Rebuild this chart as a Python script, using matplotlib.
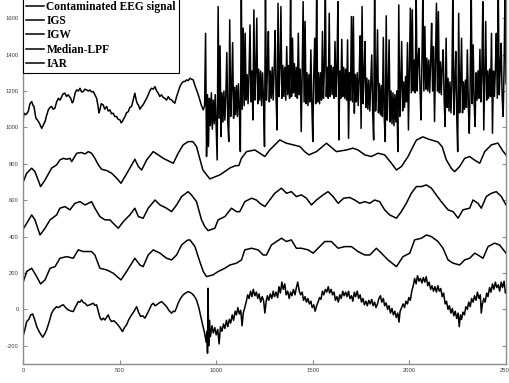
import matplotlib
matplotlib.use("Agg")
import matplotlib.pyplot as plt
import numpy as np

# ---------------- data (sample index, amplitude) ----------------
contaminated_pre_pts = [
 (0,1032),(5,1078),(15,1070),(27,1087),(36,1130),(45,1142),(52,1120),(57,1115),(62,1080),(67,1050),
 (75,1040),(85,1023),(92,1005),(97,995),(104,1010),(114,1032),(122,1065),(131,1096),(140,1110),(148,1115),
 (156,1100),(165,1105),(174,1140),(183,1160),(192,1150),(200,1169),(208,1185),(217,1188),(225,1170),(234,1179),
 (247,1160),(255,1135),(260,1142),(270,1190),(278,1206),(287,1200),(295,1215),(303,1195),(312,1197),(320,1210),
 (329,1206),(338,1200),(346,1206),(355,1195),(364,1197),(372,1180),(381,1160),(388,1120),(393,1080),(398,1096),
 (405,1130),(415,1124),(423,1100),(433,1115),(441,1090),(450,1096),(458,1075),(467,1078),(475,1060),(484,1060),
 (492,1045),(502,1041),(508,1025),(514,1032),(520,1045),(528,1060),(536,1080),(545,1087),(553,1110),(562,1115),
 (570,1150),(579,1188),(586,1150),(592,1130),(597,1124),(605,1100),(614,1115),(622,1125),(631,1142),(640,1160),
 (648,1179),(656,1200),(665,1215),(674,1210),(683,1224),(692,1200),(700,1188),(708,1170),(717,1179),(725,1165),
 (734,1160),(743,1150),(752,1169),(760,1155),(769,1151),(778,1140),(786,1133),(795,1169),(803,1195),(812,1224),
 (820,1240),(829,1252),(838,1252),(846,1261),(855,1257),(864,1270),(872,1265),(881,1261),(890,1230),(898,1206),
 (907,1180),(915,1151),(924,1120),(933,1096),
]

# contaminated section, one value every 5 samples from 940 to 2500
contaminated_post_start, contaminated_post_step = 940, 5
contaminated_post_v = [
 1120,1517,840,1180,895,1160,1010,1190,990,1150,1020,1180,1000,821,1664,1050,1448,950,1190,1030,
 1200,1040,1180,1411,1030,922,1591,1060,1200,1466,1050,1220,1070,1230,1060,1240,1090,867,1760,1100,
 1545,1120,1517,1150,1290,1130,1300,1563,1140,1310,1041,1646,1150,1300,1600,1130,1320,1150,1310,1120,
 1300,1140,895,1760,1150,1320,1527,1140,1310,1160,1330,1150,1320,1532,1160,986,1682,1170,1330,1664,
 1160,1340,1170,1330,1150,1444,1180,1340,1160,1760,1170,1490,1190,1350,1170,1330,1160,1517,1180,1320,
 977,1300,1691,1140,1582,1130,1300,1120,1290,1140,1426,1130,922,1290,1490,1130,1760,1140,1300,1130,
 1300,1150,1527,1160,1320,1760,1170,1330,1160,1627,1170,1340,1180,1330,1160,1472,1170,1320,1691,931,
 1310,1160,1484,1170,1330,1160,1320,1150,1481,940,1300,1150,1609,1140,1609,1078,1290,1140,1300,1120,
 1280,1503,995,1664,1130,1280,1472,1110,1270,1100,1260,1090,1250,1398,1080,931,1760,1090,1250,1536,
 1080,1240,1070,1230,1060,1494,1050,922,1613,1040,1210,1481,1030,1200,1020,1190,1010,1180,1030,1200,
 867,1673,1060,1220,1472,1090,1250,1110,1280,1140,1466,986,1330,1655,1190,1646,1200,1370,1190,1760,
 1200,1380,1435,1210,1041,1370,1760,1200,1554,1210,1380,1200,1370,1190,1360,1572,1200,1444,1032,1360,
 1682,1200,1636,1190,1360,1180,1340,1426,1150,1005,1490,1110,1270,1090,1250,1080,1240,1760,1070,1230,
 1417,1060,867,1627,1080,1240,1490,1080,1250,1100,1260,1110,1426,1120,968,1280,1760,1130,1453,1140,
 1005,1300,1150,1310,1160,1429,1140,1300,1691,986,1290,1582,1150,1310,1160,1320,1170,1517,968,1310,
 1170,1320,1517,1160,1760,1180,1330,1462,1170,1060,1320,1760,1240,
]

igs_pts = [
 (0,697),(19,748),(45,776),(62,757),(91,675),(114,711),(148,776),(174,794),(191,821),(209,830),(226,825),(243,830),
 (252,812),(278,858),(303,862),(321,854),(338,867),(355,858),(372,830),(390,794),(407,770),(433,763),(459,748),
 (485,721),(507,693),(528,730),(553,776),(579,825),(597,785),(614,766),(640,821),(674,867),(700,849),(726,830),
 (760,812),(778,803),(803,858),(829,904),(855,922),(879,922),(898,895),(931,766),(967,717),(1019,739),(1071,777),
 (1100,790),(1117,790),(1131,831),(1157,867),(1200,876),(1252,840),(1277,876),(1329,931),(1364,913),(1395,905),
 (1433,895),(1458,867),(1480,849),(1519,867),(1571,913),(1622,867),(1674,876),(1708,886),(1734,876),(1769,849),
 (1803,840),(1838,858),(1872,849),(1907,803),(1933,766),(1959,785),(1993,840),(2019,895),(2036,930),(2070,948),
 (2100,935),(2148,920),(2170,893),(2191,822),(2217,775),(2234,757),(2260,785),(2286,830),(2312,840),(2338,820),
 (2364,803),(2390,867),(2424,904),(2458,914),(2484,870),(2500,849),
]

igw_pts = [
 (0,440),(19,473),(45,519),(62,492),(88,409),(114,446),(140,492),(174,519),(191,556),(217,565),(243,547),(269,583),
 (295,592),(321,574),(338,583),(355,592),(372,556),(398,510),(424,492),(450,492),(467,473),(493,446),(519,482),
 (553,519),(579,556),(597,510),(622,501),(648,556),(683,601),(709,574),(743,556),(769,537),(795,574),(821,620),
 (855,647),(872,629),(898,592),(924,492),(941,455),(958,433),(993,446),(1010,492),(1045,510),(1079,556),(1105,537),
 (1122,537),(1148,592),(1183,611),(1208,601),(1226,583),(1252,565),(1277,601),(1303,638),(1338,666),(1364,638),
 (1389,647),(1415,620),(1441,629),(1467,611),(1493,574),(1519,601),(1553,629),(1579,647),(1605,620),(1631,583),
 (1660,611),(1691,615),(1717,601),(1743,583),(1769,592),(1795,583),(1820,601),(1846,592),(1872,547),(1898,519),
 (1933,501),(1958,537),(1984,583),(2010,638),(2036,675),(2062,675),(2088,684),(2114,666),(2139,629),(2165,592),
 (2200,547),(2226,537),(2252,501),(2277,547),(2312,556),(2329,601),(2355,583),(2372,556),(2398,620),(2424,638),
 (2450,647),(2476,620),(2500,574),
]

median_lpf_pts = [
 (0,147),(19,208),(45,226),(71,180),(91,140),(114,162),(140,226),(166,235),(191,281),(226,290),(260,281),(286,327),
 (312,318),(338,318),(355,318),(372,299),(398,226),(433,217),(467,199),(507,162),(536,208),(579,281),(605,244),
 (622,235),(648,299),(674,327),(709,309),(743,281),(769,272),(795,299),(821,354),(850,380),(864,382),(890,345),
 (915,263),(933,208),(950,180),(984,190),(1010,208),(1045,226),(1071,244),(1105,254),(1131,272),(1148,327),
 (1183,336),(1217,327),(1243,299),(1260,299),(1286,354),(1312,373),(1338,391),(1364,373),(1389,382),(1415,336),
 (1441,336),(1476,327),(1502,309),(1527,336),(1562,373),(1596,373),(1631,336),(1665,345),(1700,345),(1734,318),
 (1769,299),(1795,299),(1829,336),(1855,309),(1889,272),(1933,235),(1967,290),(2002,309),(2027,382),(2062,391),
 (2088,409),(2114,400),(2148,373),(2174,336),(2200,272),(2226,254),(2260,244),(2286,272),(2312,281),(2338,309),
 (2355,299),(2381,281),(2407,345),(2441,364),(2467,354),(2500,309),
]

iar_pts = [
 (0,-149),(10,-110),(19,-67),(30,-55),(40,-30),(50,-25),(60,-55),(71,-94),(85,-125),(102,-153),(112,-135),(122,-113),
 (135,-70),(148,-21),(160,0),(174,15),(183,10),(191,15),(200,22),(209,25),(220,10),(234,-3),(246,-8),(260,-12),
 (272,15),(286,43),(295,40),(303,52),(312,38),(321,34),(333,20),(346,25),(355,30),(364,34),(372,22),(381,25),
 (392,-20),(400,-50),(407,-58),(415,-48),(424,-58),(432,-45),(441,-30),(450,-55),(459,-67),(470,-62),(484,-76),
 (495,-90),(505,-105),(515,-122),(525,-100),(536,-85),(548,-55),(562,-30),(575,-10),(588,15),(598,-15),(609,-39),
 (620,-35),(631,-48),(645,-20),(657,6),(665,25),(674,34),(683,20),(691,25),(704,35),(717,43),(730,30),(743,15),
 (755,-5),(769,-21),(778,-10),(786,-12),(795,10),(803,34),(815,60),(829,80),(842,90),(855,98),(872,89),(885,75),
 (898,52),(910,10),(924,-58),(933,-100),
 (940,-131),(948,-180),(952,-120),(955,-241),(958,116),(961,-200),(965,-60),(970,-150),(978,-90),(985,-130),
 (993,-100),(1000,-140),(1008,-110),(1015,-190),(1022,-95),(1030,-120),(1038,-80),(1045,-105),(1053,-60),(1060,-95),
 (1068,-55),(1075,-75),(1083,-30),(1090,-60),(1098,-10),(1105,-30),(1112,10),(1120,-25),(1127,-5),(1134,-90),
 (1140,-20),(1148,10),(1155,40),(1163,80),(1170,60),(1178,100),(1185,70),(1192,110),(1200,75),(1208,95),
 (1215,60),(1222,85),(1230,40),(1238,70),(1245,50),(1252,-20),(1258,40),(1265,75),(1272,50),(1280,85),
 (1288,60),(1295,100),(1302,70),(1310,95),(1318,65),(1325,125),(1332,90),(1340,150),(1347,110),(1355,140),
 (1362,80),(1370,100),(1378,60),(1385,95),(1392,75),(1400,110),(1408,80),(1415,120),(1422,150),(1430,100),
 (1437,80),(1445,95),(1452,50),(1460,70),(1467,40),(1475,60),(1482,30),(1490,45),(1497,10),(1505,25),
 (1512,-10),(1520,20),(1527,40),(1535,65),(1542,55),(1550,100),(1557,80),(1565,110),(1572,95),(1580,125),
 (1587,90),(1595,110),(1602,80),(1610,95),(1617,50),(1625,70),(1632,40),(1640,80),(1647,60),(1655,100),
 (1662,75),(1670,95),(1677,70),(1685,100),(1692,60),(1700,75),(1707,45),(1715,95),(1722,70),(1730,100),
 (1737,60),(1745,80),(1752,40),(1760,60),(1767,25),(1775,45),(1782,20),(1790,50),(1797,30),(1805,55),
 (1812,20),(1820,40),(1827,10),(1835,30),(1842,60),(1850,75),(1857,40),(1865,60),(1872,20),(1880,35),
 (1887,0),(1895,20),(1902,-20),(1910,5),(1917,-30),(1925,-10),(1932,-45),(1940,-20),(1946,-70),(1952,-10),
 (1960,10),(1967,30),(1975,10),(1982,45),(1990,30),(1997,65),(2005,50),(2012,100),(2020,130),(2027,170),
 (2035,140),(2042,185),(2050,155),(2057,170),(2065,145),(2072,175),(2080,150),(2087,180),(2095,130),(2102,150),
 (2110,110),(2117,130),(2125,100),(2132,125),(2140,95),(2147,130),(2155,100),(2162,115),(2170,70),(2177,90),
 (2185,30),(2192,45),(2200,0),(2207,20),(2215,-20),(2222,5),(2230,-35),(2237,-10),(2245,-50),(2252,-20),
 (2258,-95),(2264,-30),(2270,-55),(2277,-15),(2285,-30),(2292,15),(2300,0),(2307,40),(2315,15),(2322,60),
 (2330,40),(2337,75),(2345,50),(2352,95),(2360,60),(2367,80),(2372,-20),(2378,30),(2385,60),(2392,40),
 (2400,90),(2407,70),(2415,120),(2422,95),(2430,140),(2437,110),(2445,150),(2452,120),(2460,135),(2467,100),
 (2475,150),(2482,120),(2490,155),(2497,90),(2500,100),
]

labels = ["Contaminated EEG signal", "IGS", "IGW", "Median-LPF", "IAR"]
x_ticks = [0, 500, 1000, 1500, 2000, 2500]
y_ticks = [-200, 0, 200, 400, 600, 800, 1000, 1200, 1400, 1600]

# assemble the contaminated trace
post_t = list(range(contaminated_post_start,
                    contaminated_post_start + contaminated_post_step * len(contaminated_post_v),
                    contaminated_post_step))
contam_t = [p[0] for p in contaminated_pre_pts] + post_t
contam_v = [p[1] for p in contaminated_pre_pts] + contaminated_post_v

traces = [(contam_t, contam_v)]
for pts in (igs_pts, igw_pts, median_lpf_pts, iar_pts):
    traces.append(([p[0] for p in pts], [p[1] for p in pts]))

# ---------------- figure ----------------
W, H = 509, 383
fig = plt.figure(figsize=(W / 100, H / 100), dpi=100)
ylo, yhi = -300, 1800
px_per_unit = 0.182
ax_h_px = (yhi - ylo) * px_per_unit
ax = fig.add_axes([23 / W, (H - 364) / H, (506 - 23) / W, ax_h_px / H])

for label, (t, v) in zip(labels, traces):
    ax.plot(t, v, color="black", lw=1.1, label=label)

ax.set_xlim(0, 2500)
ax.set_ylim(ylo, yhi)
ax.set_xticks(x_ticks)
ax.set_yticks(y_ticks)
ax.set_xticklabels([str(x) for x in x_ticks])
ax.set_yticklabels([str(y) for y in y_ticks])

spine_col = "#8c8c8c"
for s in ax.spines.values():
    s.set_color(spine_col)
    s.set_linewidth(1.0)
ax.tick_params(direction="in", length=3, width=0.8, color=spine_col,
               labelsize=4.2, labelcolor="#404040", top=True, right=True, pad=3)
for lab in ax.get_xticklabels() + ax.get_yticklabels():
    lab.set_family("Liberation Sans")

leg = ax.legend(loc="upper left", bbox_to_anchor=(23 / W, 1 + 2.5 / H),
                bbox_transform=fig.transFigure, borderaxespad=0,
                prop={"family": "Liberation Serif", "weight": "bold", "size": 8.3},
                handlelength=1.5, handletextpad=0.25, labelspacing=0.2,
                borderpad=0.28, fancybox=False, framealpha=1, edgecolor="black")
leg.get_frame().set_linewidth(0.8)

fig.savefig("out.png", dpi=100)
